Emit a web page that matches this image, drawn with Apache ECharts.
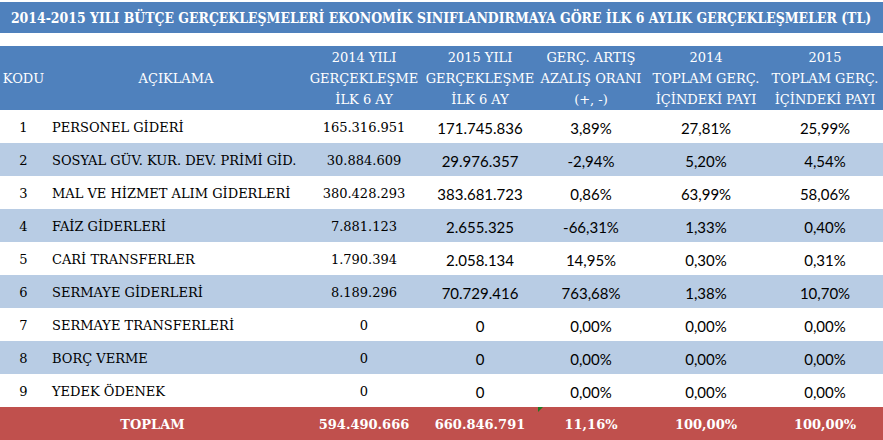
<!DOCTYPE html>
<html>
<head>
<meta charset="utf-8">
<script src="https://cdn.jsdelivr.net/npm/echarts@6/dist/echarts.min.js"></script>
<style>
  html, body { margin: 0; padding: 0; background: #fff; }
  #main { width: 883px; height: 440px; }
</style>
</head>
<body>
<div id="main"></div>
<script>
// tablo verileri
var titleText = '2014-2015 YILI BÜTÇE GERÇEKLEŞMELERİ EKONOMİK SINIFLANDIRMAYA GÖRE İLK 6 AYLIK GERÇEKLEŞMELER (TL)';
var headers = ['KODU', 'AÇIKLAMA', '2014 YILI\nGERÇEKLEŞME\nİLK 6 AY', '2015 YILI\nGERÇEKLEŞME\nİLK 6 AY',
  'GERÇ. ARTIŞ\nAZALIŞ ORANI\n(+, -)', '2014\nTOPLAM GERÇ.\nİÇİNDEKİ PAYI', '2015\nTOPLAM GERÇ.\nİÇİNDEKİ PAYI'];
var codes = ['1', '2', '3', '4', '5', '6', '7', '8', '9'];
var items = ['PERSONEL GİDERİ', 'SOSYAL GÜV. KUR. DEV. PRİMİ GİD.', 'MAL VE HİZMET ALIM GİDERLERİ', 'FAİZ GİDERLERİ',
  'CARİ TRANSFERLER', 'SERMAYE GİDERLERİ', 'SERMAYE TRANSFERLERİ', 'BORÇ VERME', 'YEDEK ÖDENEK'];
var gerc2014 = [165316951, 30884609, 380428293, 7881123, 1790394, 8189296, 0, 0, 0];
var gerc2015 = [171745836, 29976357, 383681723, 2655325, 2058134, 70729416, 0, 0, 0];
var artis = [3.89, -2.94, 0.86, -66.31, 14.95, 763.68, 0.00, 0.00, 0.00];
var pay2014 = [27.81, 5.20, 63.99, 1.33, 0.30, 1.38, 0.00, 0.00, 0.00];
var pay2015 = [25.99, 4.54, 58.06, 0.40, 0.31, 10.70, 0.00, 0.00, 0.00];
var totalLabel = 'TOPLAM';
var totals = [594490666, 660846791];
var totalPct = [11.16, 100.00, 100.00];

// yerleşim
var colEdges = [0, 47, 305, 423, 537, 645, 767, 883];
var SERIF = 'DejaVu Serif';
var SANS = 'Lato';
var BLUE = '#4f81bd', BAND = '#b8cce4', RED = '#c0504d';

function fmtNum(v) { return String(v).replace(/\B(?=(\d{3})+(?!\d))/g, '.'); }
function fmtPct(v) { return v.toFixed(2).replace('.', ',') + '%'; }

// başlık genişliği: yazıyı 861px'e sığdır
var titleFont = 'bold 14px "' + SERIF + '"';
var ctx = document.createElement('canvas').getContext('2d');
ctx.font = titleFont;
var titleScale = Math.min(1, 861 / ctx.measureText(titleText).width);

var rowKeys = codes.concat([totalLabel]);
var totalRow = codes.length;

// hücreler
var cells = [];
codes.forEach(function (c, i) {
  cells.push({ c0: 0, c1: 1, row: i, text: c, fam: SERIF });
  cells.push({ c0: 1, c1: 2, row: i, text: items[i], fam: SERIF, left: true });
  cells.push({ c0: 2, c1: 3, row: i, text: fmtNum(gerc2014[i]), fam: SERIF });
  cells.push({ c0: 3, c1: 4, row: i, text: fmtNum(gerc2015[i]), fam: SANS });
  cells.push({ c0: 4, c1: 5, row: i, text: fmtPct(artis[i]), fam: SANS });
  cells.push({ c0: 5, c1: 6, row: i, text: fmtPct(pay2014[i]), fam: SANS });
  cells.push({ c0: 6, c1: 7, row: i, text: fmtPct(pay2015[i]), fam: SANS });
});
cells.push({ c0: 0, c1: 2, row: totalRow, text: totalLabel, fam: SERIF, bold: true, white: true });
cells.push({ c0: 2, c1: 3, row: totalRow, text: fmtNum(totals[0]), fam: SERIF, bold: true, white: true });
cells.push({ c0: 3, c1: 4, row: totalRow, text: fmtNum(totals[1]), fam: SERIF, bold: true, white: true });
cells.push({ c0: 4, c1: 5, row: totalRow, text: fmtPct(totalPct[0]), fam: SERIF, bold: true, white: true, flag: true });
cells.push({ c0: 5, c1: 6, row: totalRow, text: fmtPct(totalPct[1]), fam: SERIF, bold: true, white: true });
cells.push({ c0: 6, c1: 7, row: totalRow, text: fmtPct(totalPct[2]), fam: SERIF, bold: true, white: true });

function box(api, c0, c1, row) {
  return {
    x0: api.coord([colEdges[c0], row])[0],
    x1: api.coord([colEdges[c1], row])[0],
    y: api.coord([0, row])[1],
    h: api.size([0, 1])[1]
  };
}

var chart = echarts.init(document.getElementById('main'), null, { renderer: 'svg' });
chart.setOption({
  animation: false,
  graphic: [{
    type: 'rect', left: 0, top: 2, z: 0,
    shape: { width: 883, height: 31 },
    style: { fill: BLUE }
  }, {
    type: 'text', x: 441, y: 18, scaleX: titleScale, z: 10,
    style: {
      text: titleText, align: 'center', verticalAlign: 'middle',
      fill: '#fff', fontFamily: SERIF, fontWeight: 'bold', fontSize: 14
    }
  }],
  grid: [
    { left: 0, right: 0, top: 46, height: 64 },
    { left: 0, right: 0, top: 110, height: 330 }
  ],
  xAxis: [
    { gridIndex: 0, type: 'value', min: 0, max: 883, show: false },
    { gridIndex: 1, type: 'value', min: 0, max: 883, show: false }
  ],
  yAxis: [
    { gridIndex: 0, type: 'category', data: ['başlık'], show: false },
    { gridIndex: 1, type: 'category', data: rowKeys, inverse: true, show: false }
  ],
  series: [
    {
      // başlık satırı
      type: 'custom', xAxisIndex: 0, yAxisIndex: 0, z: 2,
      data: headers.map(function (h, i) { return [colEdges[i], 0]; }),
      renderItem: function (params, api) {
        var i = params.dataIndex;
        var b = box(api, i, i + 1, 0);
        var children = [];
        if (i === 0) {
          var full = box(api, 0, headers.length, 0);
          children.push({ type: 'rect', shape: { x: full.x0, y: full.y - full.h / 2, width: full.x1 - full.x0, height: full.h }, style: { fill: BLUE } });
        }
        children.push({
          type: 'text', z2: 5,
          style: {
            text: headers[i], x: (b.x0 + b.x1) / 2, y: b.y, align: 'center', verticalAlign: 'middle',
            fill: '#fff', fontFamily: SERIF, fontSize: 13, lineHeight: 21
          }
        });
        return { type: 'group', children: children };
      }
    },
    {
      // satır zeminleri
      type: 'custom', xAxisIndex: 1, yAxisIndex: 1, z: 1,
      data: rowKeys.map(function (k, i) { return [0, i]; }),
      renderItem: function (params, api) {
        var r = params.dataIndex;
        var b = box(api, 0, colEdges.length - 1, r);
        var fill = r === totalRow ? RED : (r % 2 === 1 ? BAND : '#fff');
        return { type: 'rect', shape: { x: b.x0, y: b.y - b.h / 2, width: b.x1 - b.x0, height: b.h }, style: { fill: fill } };
      }
    },
    {
      // hücre metinleri
      type: 'custom', xAxisIndex: 1, yAxisIndex: 1, z: 3,
      data: cells.map(function (c) { return [colEdges[c.c0], c.row]; }),
      renderItem: function (params, api) {
        var c = cells[params.dataIndex];
        var b = box(api, c.c0, c.c1, c.row);
        var children = [{
          type: 'text',
          style: {
            text: c.text,
            x: c.left ? b.x0 + 5 : (b.x0 + b.x1) / 2,
            y: b.y + 1,
            align: c.left ? 'left' : 'center',
            verticalAlign: 'middle',
            fill: c.white ? '#fff' : '#000',
            fontFamily: c.fam,
            fontWeight: c.bold ? 'bold' : 'normal',
            fontSize: c.fam === SANS ? 15 : 13
          }
        }];
        if (c.flag) {
          var t = b.y - b.h / 2;
          children.push({ type: 'polygon', shape: { points: [[b.x0 + 1, t], [b.x0 + 6, t], [b.x0 + 1, t + 5]] }, style: { fill: '#217821' } });
        }
        return { type: 'group', children: children };
      }
    }
  ]
});
</script>
</body>
</html>
